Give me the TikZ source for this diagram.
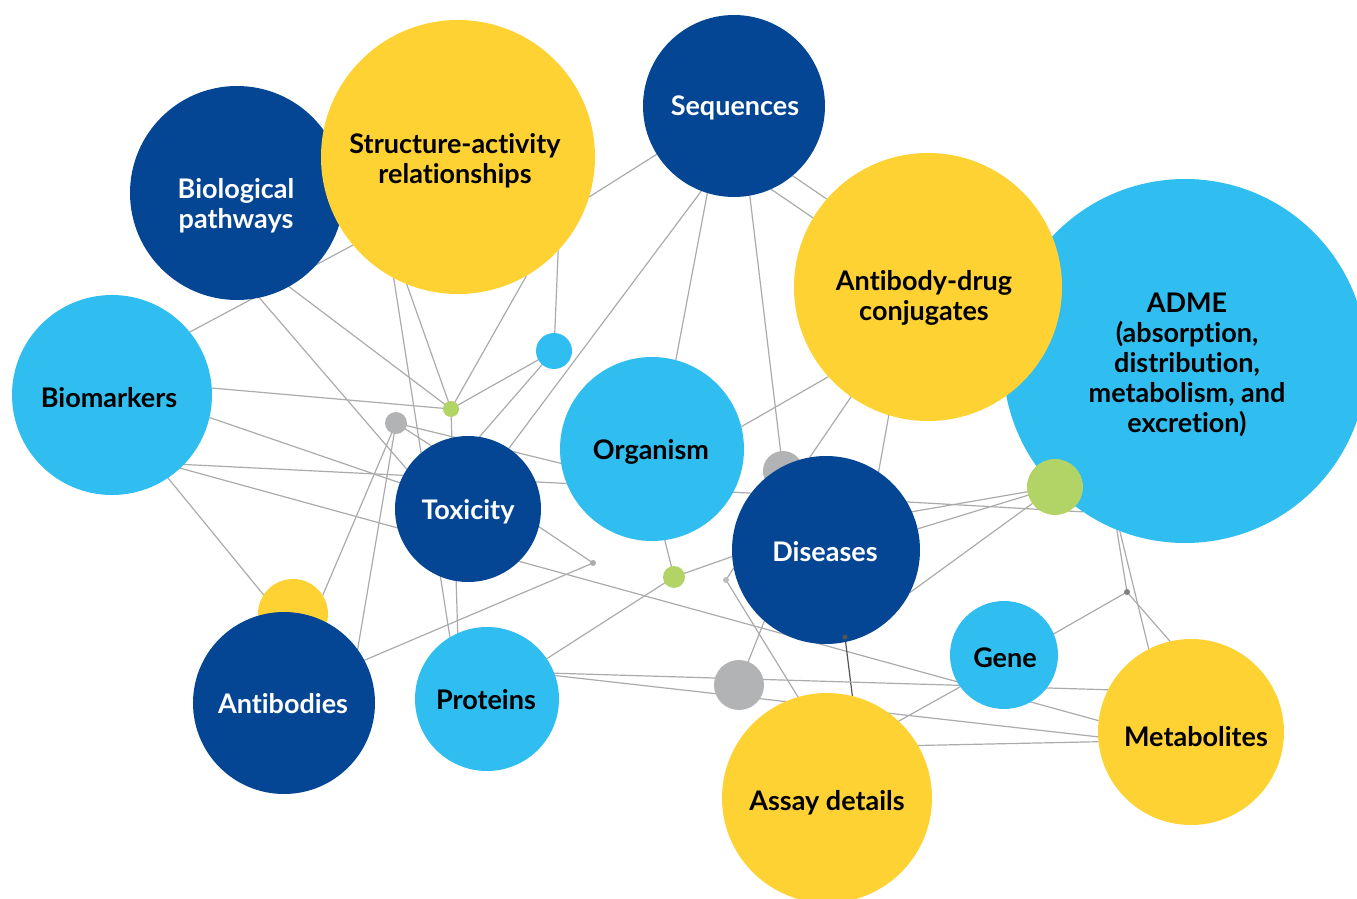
\documentclass[tikz,border=0pt]{standalone}
\usepackage{fontspec}
\setmainfont{Lato}[Ligatures={NoCommon,NoRare,NoContextual}]
\pgfdeclarelayer{bg}
\pgfsetlayers{bg,main}
\definecolor{dblue}{HTML}{054694}
\definecolor{lblue}{HTML}{2FBEEF}
\definecolor{yel}{HTML}{FED233}
\definecolor{grn}{HTML}{B2D366}
\definecolor{gcirc}{HTML}{B1B3B4}
\definecolor{edgec}{HTML}{ABABAB}
\definecolor{dgray}{HTML}{555555}
\tikzset{
  circ/.style={circle, inner sep=0pt, outer sep=0pt, draw=none},
  edge/.style={draw=edgec, line width=0.6pt},
  lab/.style={align=center, font=\fontsize{13.5}{15}\selectfont\bfseries, text=black},
  wlab/.style={lab, text=white},
}
\begin{document}
\begin{tikzpicture}[x=0.5pt,y=-0.5pt]
\useasboundingbox (0,0) rectangle (1357,899);
\clip (0,0) rectangle (1357,899);
% circles (radius r px -> minimum size r pt)
\node[circ, fill=dblue, minimum size=107pt] (bp) at (237,193) {};
\node[circ, fill=yel, minimum size=137pt] (sar) at (458,157) {};
\node[circ, fill=dblue, minimum size=91pt] (seq) at (734,106) {};
\node[circ, fill=lblue, minimum size=182pt] (adme) at (1185,361) {};
\node[circ, fill=yel, minimum size=134pt] (adc) at (928,287) {};
\node[circ, fill=grn, minimum size=28pt] (g2) at (1055,487) {};
\node[circ, fill=lblue, minimum size=100pt] (bm) at (112,395) {};
\node[circ, fill=lblue, minimum size=18pt] (sb1) at (554,351) {};
\node[circ, fill=grn, minimum size=8pt] (g1) at (451,409) {};
\node[circ, fill=gcirc, minimum size=11pt] (gr1) at (396,423) {};
\node[circ, fill=lblue, minimum size=92pt] (org) at (652,449) {};
\node[circ, fill=dblue, minimum size=73pt] (tox) at (468,509) {};
\node[circ, fill=gcirc, minimum size=20pt] (gr2) at (783,471) {};
\node[circ, fill=dblue, minimum size=94pt] (dis) at (826,550) {};
\node[circ, fill=grn, minimum size=11pt] (g3) at (674,577) {};
\node[circ, fill=yel, minimum size=35pt] (y1) at (293,614) {};
\node[circ, fill=dblue, minimum size=91pt] (ab) at (284,703) {};
\node[circ, fill=lblue, minimum size=72pt] (pr) at (487,699) {};
\node[circ, fill=gcirc, minimum size=25pt] (gr3) at (739,685) {};
\node[circ, fill=lblue, minimum size=54pt] (gene) at (1004,655) {};
\node[circ, fill=yel, minimum size=93pt] (met) at (1191,732) {};
\node[circ, fill=yel, minimum size=105pt] (assay) at (827,798) {};
\node[circ, fill=edgec, minimum size=3pt] (d1) at (593,563) {};
\node[circ, fill=edgec!80, minimum size=3pt] (d2) at (726,580) {};
\node[circ, fill=gray, minimum size=3pt] (d3) at (1127,592) {};
\node[circ, fill=dgray, minimum size=2.5pt] (d4) at (845,637) {};
% labels
\node[wlab] (tbp) at (236,206) {Biological\\pathways};
\node[lab] (tsar) at (455,161) {Structure-activity\\relationships};
\node[wlab] (tseq) at (735,108) {Sequences};
\node[lab] (tadc) at (924,298) {Antibody-drug\\conjugates};
\node[lab] (tadme) at (1187,365) {ADME\\(absorption,\\distribution,\\metabolism, and\\excretion)};
\node[lab] (tbm) at (109,398) {Biomarkers};
\node[lab] (torg) at (651,452) {Organism};
\node[wlab] (ttox) at (468,512) {Toxicity};
\node[wlab] (tdis) at (825,552) {Diseases};
\node[lab] (tgene) at (1005,658) {Gene};
\node[wlab] (tab) at (283,704) {Antibodies};
\node[lab] (tpr) at (486,700) {Proteins};
\node[lab] (tmet) at (1196,737) {Metabolites};
\node[lab] (tassay) at (827,803) {Assay details};
% connectors, under the circles
\begin{pgfonlayer}{bg}
\draw[edge] (bm.39) -- (sar.220);
\draw[edge] (bp.-78) -- (tox.147);
\draw[edge] (bp.-61) -- (g1.center);
\draw[edge] (sar.242) -- (pr.121);
\draw[edge] (sar.248) -- (g1.center);
\draw[edge] (sar.-60) -- (g1.center);
\draw[edge] (bm.4) -- (g1.center);
\draw[edge] (bm.-13) -- (tox.159);
\draw[edge] (bm.-44) -- (org.202);
\draw[edge] (bm.-47) -- (met.173);
\draw[edge] (bm.-56) -- (y1.147);
\draw[edge] (gr1.center) -- (y1.32);
\draw[edge] (gr1.center) -- (ab.36);
\draw[edge] (gr1.center) -- (org.189);
\draw[edge] (gr1.center) -- (tox.120);
\draw[edge] (sar.-43) -- (sb1.center);
\draw[edge] (sb1.center) -- (g1.center);
\draw[edge] (sb1.center) -- (tox.81);
\draw[edge] (g1.center) -- (pr.114);
\draw[edge] (seq.249) -- (tox.56);
\draw[edge] (seq.253) -- (org.75);
\draw[edge] (seq.-80) -- (gr2.center);
\draw[edge] (seq.-50) -- (adc.139);
\draw[edge] (seq.-66) -- (adc.149);
\draw[edge] (sar.-17) -- (seq.212);
\draw[edge] (org.14) -- (adc.222);
\draw[edge] (org.-28) -- (adme.236);
\draw[edge] (org.-82) -- (g3.center);
\draw[edge] (pr.34) -- (g3.center);
\draw[edge] (g3.center) -- (dis.184);
\draw[edge] (d2.center) -- (dis.191);
\draw[edge] (d2.center) -- (assay.106);
\draw[edge] (gr3.center) -- (dis.229);
\draw[edge, draw=dgray] (d4.center) -- (assay.76);
\draw[edge] (adc.235) -- (dis.100);
\draw[edge] (adc.253) -- (dis.56);
\draw[edge] (dis.24) -- (g2.center);
\draw[edge] (dis.13) -- (g2.center);
\draw[edge] (dis.-27) -- (g2.center);
\draw[edge] (adme.248) -- (d3.center);
\draw[edge] (adme.249) -- (met.117);
\draw[edge] (d3.center) -- (met.103);
\draw[edge] (d3.center) -- (gene.23);
\draw[edge] (pr.21) -- (met.153);
\draw[edge] (pr.19) -- (met.183);
\draw[edge] (assay.47) -- (gene.216);
\draw[edge] (assay.30) -- (met.186);
\draw[edge] (tox.-14) -- (d1.center);
\draw[edge] (ab.28) -- (d1.center);
\end{pgfonlayer}
\end{tikzpicture}
\end{document}
